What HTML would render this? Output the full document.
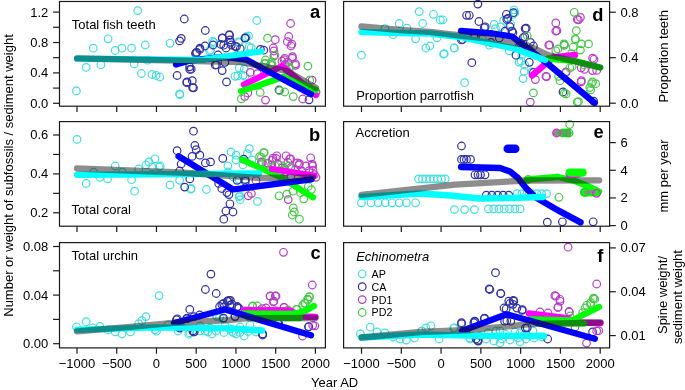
<!DOCTYPE html><html><head><meta charset="utf-8"><style>
html,body{margin:0;padding:0;background:#fff;width:685px;height:390px;overflow:hidden}
svg{display:block;filter:blur(0.35px)}
text{font-family:"Liberation Sans", sans-serif;fill:#000}
</style></head><body>
<svg width="685" height="390" viewBox="0 0 685 390">
<g fill="none" stroke-width="1.2">
<circle cx="213.8" cy="42.4" r="3.8" stroke="#40dede"/>
<circle cx="209.5" cy="50.8" r="3.8" stroke="#40dede"/>
<circle cx="239.2" cy="42.4" r="3.8" stroke="#40dede"/>
<circle cx="246.3" cy="36.7" r="3.8" stroke="#40dede"/>
<circle cx="249.1" cy="46.6" r="3.8" stroke="#40dede"/>
<circle cx="235.0" cy="76.3" r="3.8" stroke="#40dede"/>
<circle cx="244.9" cy="76.3" r="3.8" stroke="#40dede"/>
<circle cx="239.2" cy="67.8" r="3.8" stroke="#40dede"/>
<circle cx="179.9" cy="94.6" r="3.8" stroke="#40dede"/>
<circle cx="137.7" cy="10.6" r="3.8" stroke="#40dede"/>
<circle cx="108.1" cy="38.8" r="3.8" stroke="#40dede"/>
<circle cx="93.3" cy="48.2" r="3.8" stroke="#40dede"/>
<circle cx="115.2" cy="50.5" r="3.8" stroke="#40dede"/>
<circle cx="121.9" cy="48.2" r="3.8" stroke="#40dede"/>
<circle cx="131.6" cy="48.2" r="3.8" stroke="#40dede"/>
<circle cx="145.2" cy="45.0" r="3.8" stroke="#40dede"/>
<circle cx="170.0" cy="43.3" r="3.8" stroke="#40dede"/>
<circle cx="86.2" cy="67.4" r="3.8" stroke="#40dede"/>
<circle cx="100.9" cy="64.7" r="3.8" stroke="#40dede"/>
<circle cx="134.2" cy="63.9" r="3.8" stroke="#40dede"/>
<circle cx="147.5" cy="60.2" r="3.8" stroke="#40dede"/>
<circle cx="141.4" cy="73.5" r="3.8" stroke="#40dede"/>
<circle cx="152.0" cy="74.5" r="3.8" stroke="#40dede"/>
<circle cx="156.1" cy="75.5" r="3.8" stroke="#40dede"/>
<circle cx="159.8" cy="77.0" r="3.8" stroke="#40dede"/>
<circle cx="76.4" cy="90.9" r="3.8" stroke="#40dede"/>
<circle cx="179.6" cy="93.9" r="3.8" stroke="#40dede"/>
<circle cx="212.7" cy="41.5" r="3.8" stroke="#40dede"/>
<circle cx="210.5" cy="49.7" r="3.8" stroke="#40dede"/>
<circle cx="238.3" cy="41.8" r="3.8" stroke="#40dede"/>
<circle cx="248.6" cy="36.0" r="3.8" stroke="#40dede"/>
<circle cx="251.2" cy="47.6" r="3.8" stroke="#40dede"/>
<circle cx="256.7" cy="20.5" r="3.8" stroke="#40dede"/>
<circle cx="237.8" cy="75.9" r="3.8" stroke="#40dede"/>
<circle cx="243.0" cy="75.3" r="3.8" stroke="#40dede"/>
<circle cx="244.2" cy="69.0" r="3.8" stroke="#40dede"/>
<circle cx="222.2" cy="38.1" r="3.8" stroke="#3030a6"/>
<circle cx="229.3" cy="35.3" r="3.8" stroke="#3030a6"/>
<circle cx="230.7" cy="42.4" r="3.8" stroke="#3030a6"/>
<circle cx="223.7" cy="45.2" r="3.8" stroke="#3030a6"/>
<circle cx="236.4" cy="46.6" r="3.8" stroke="#3030a6"/>
<circle cx="244.9" cy="38.1" r="3.8" stroke="#3030a6"/>
<circle cx="260.4" cy="49.4" r="3.8" stroke="#3030a6"/>
<circle cx="215.2" cy="65.0" r="3.8" stroke="#3030a6"/>
<circle cx="222.2" cy="70.6" r="3.8" stroke="#3030a6"/>
<circle cx="226.5" cy="81.9" r="3.8" stroke="#3030a6"/>
<circle cx="187.0" cy="81.9" r="3.8" stroke="#3030a6"/>
<circle cx="192.6" cy="87.6" r="3.8" stroke="#3030a6"/>
<circle cx="191.2" cy="69.2" r="3.8" stroke="#3030a6"/>
<circle cx="196.8" cy="52.3" r="3.8" stroke="#3030a6"/>
<circle cx="199.7" cy="49.4" r="3.8" stroke="#3030a6"/>
<circle cx="184.3" cy="19.0" r="3.8" stroke="#3030a6"/>
<circle cx="181.2" cy="38.4" r="3.8" stroke="#3030a6"/>
<circle cx="179.6" cy="40.9" r="3.8" stroke="#3030a6"/>
<circle cx="195.5" cy="53.5" r="3.8" stroke="#3030a6"/>
<circle cx="177.1" cy="75.5" r="3.8" stroke="#3030a6"/>
<circle cx="186.7" cy="82.7" r="3.8" stroke="#3030a6"/>
<circle cx="192.3" cy="80.7" r="3.8" stroke="#3030a6"/>
<circle cx="193.5" cy="87.8" r="3.8" stroke="#3030a6"/>
<circle cx="189.8" cy="69.4" r="3.8" stroke="#3030a6"/>
<circle cx="205.3" cy="30.5" r="3.8" stroke="#3030a6"/>
<circle cx="199.9" cy="48.2" r="3.8" stroke="#3030a6"/>
<circle cx="196.0" cy="52.7" r="3.8" stroke="#3030a6"/>
<circle cx="222.3" cy="37.9" r="3.8" stroke="#3030a6"/>
<circle cx="229.4" cy="34.7" r="3.8" stroke="#3030a6"/>
<circle cx="230.0" cy="39.9" r="3.8" stroke="#3030a6"/>
<circle cx="221.0" cy="44.4" r="3.8" stroke="#3030a6"/>
<circle cx="231.3" cy="45.0" r="3.8" stroke="#3030a6"/>
<circle cx="235.1" cy="46.3" r="3.8" stroke="#3030a6"/>
<circle cx="240.3" cy="48.8" r="3.8" stroke="#3030a6"/>
<circle cx="245.4" cy="37.9" r="3.8" stroke="#3030a6"/>
<circle cx="216.5" cy="64.9" r="3.8" stroke="#3030a6"/>
<circle cx="224.9" cy="62.3" r="3.8" stroke="#3030a6"/>
<circle cx="189.6" cy="66.8" r="3.8" stroke="#3030a6"/>
<circle cx="263.7" cy="50.2" r="3.8" stroke="#3030a6"/>
<circle cx="279.0" cy="90.0" r="3.8" stroke="#3030a6"/>
<circle cx="309.0" cy="99.8" r="3.8" stroke="#3030a6"/>
<circle cx="213.0" cy="45.0" r="3.8" stroke="#3030a6"/>
<circle cx="226.0" cy="48.0" r="3.8" stroke="#3030a6"/>
<circle cx="205.0" cy="46.0" r="3.8" stroke="#3030a6"/>
<circle cx="236.0" cy="56.0" r="3.8" stroke="#3030a6"/>
<circle cx="218.0" cy="55.0" r="3.8" stroke="#3030a6"/>
<circle cx="273.8" cy="51.0" r="3.8" stroke="#b83cc6"/>
<circle cx="284.1" cy="59.7" r="3.8" stroke="#b83cc6"/>
<circle cx="292.3" cy="58.2" r="3.8" stroke="#b83cc6"/>
<circle cx="285.1" cy="64.4" r="3.8" stroke="#b83cc6"/>
<circle cx="295.4" cy="63.8" r="3.8" stroke="#b83cc6"/>
<circle cx="257.4" cy="73.6" r="3.8" stroke="#b83cc6"/>
<circle cx="290.6" cy="23.5" r="3.8" stroke="#b83cc6"/>
<circle cx="275.3" cy="39.7" r="3.8" stroke="#b83cc6"/>
<circle cx="288.7" cy="36.5" r="3.8" stroke="#b83cc6"/>
<circle cx="287.4" cy="41.7" r="3.8" stroke="#b83cc6"/>
<circle cx="291.9" cy="44.2" r="3.8" stroke="#b83cc6"/>
<circle cx="273.3" cy="48.0" r="3.8" stroke="#b83cc6"/>
<circle cx="273.9" cy="56.1" r="3.8" stroke="#b83cc6"/>
<circle cx="250.2" cy="72.4" r="3.8" stroke="#b83cc6"/>
<circle cx="282.0" cy="61.2" r="3.8" stroke="#b83cc6"/>
<circle cx="265.5" cy="100.1" r="3.8" stroke="#b83cc6"/>
<circle cx="244.8" cy="96.6" r="3.8" stroke="#b83cc6"/>
<circle cx="247.8" cy="93.0" r="3.8" stroke="#b83cc6"/>
<circle cx="284.7" cy="58.3" r="3.8" stroke="#b83cc6"/>
<circle cx="292.5" cy="56.7" r="3.8" stroke="#b83cc6"/>
<circle cx="295.6" cy="65.3" r="3.8" stroke="#b83cc6"/>
<circle cx="287.8" cy="62.2" r="3.8" stroke="#b83cc6"/>
<circle cx="312.1" cy="80.2" r="3.8" stroke="#b83cc6"/>
<circle cx="316.0" cy="92.0" r="3.8" stroke="#b83cc6"/>
<circle cx="302.7" cy="99.0" r="3.8" stroke="#b83cc6"/>
<circle cx="291.0" cy="46.0" r="3.8" stroke="#b83cc6"/>
<circle cx="274.9" cy="55.1" r="3.8" stroke="#46c846"/>
<circle cx="265.6" cy="63.3" r="3.8" stroke="#46c846"/>
<circle cx="270.8" cy="64.4" r="3.8" stroke="#46c846"/>
<circle cx="289.2" cy="66.9" r="3.8" stroke="#46c846"/>
<circle cx="287.2" cy="70.5" r="3.8" stroke="#46c846"/>
<circle cx="267.6" cy="38.2" r="3.8" stroke="#46c846"/>
<circle cx="264.6" cy="63.7" r="3.8" stroke="#46c846"/>
<circle cx="272.2" cy="65.4" r="3.8" stroke="#46c846"/>
<circle cx="271.4" cy="62.4" r="3.8" stroke="#46c846"/>
<circle cx="265.5" cy="60.0" r="3.8" stroke="#46c846"/>
<circle cx="279.6" cy="90.7" r="3.8" stroke="#46c846"/>
<circle cx="260.2" cy="92.4" r="3.8" stroke="#46c846"/>
<circle cx="241.3" cy="98.9" r="3.8" stroke="#46c846"/>
<circle cx="307.9" cy="66.1" r="3.8" stroke="#46c846"/>
<circle cx="289.4" cy="68.5" r="3.8" stroke="#46c846"/>
<circle cx="309.7" cy="80.2" r="3.8" stroke="#46c846"/>
<circle cx="293.3" cy="96.6" r="3.8" stroke="#46c846"/>
<circle cx="284.7" cy="92.0" r="3.8" stroke="#46c846"/>
</g>
<g fill="none" stroke-linecap="round" stroke-linejoin="round">
<polyline points="244,84.6 282,66 316,95" stroke="#ff00ff" stroke-width="6.3"/>
<polyline points="241,91.3 283,77 316,90" stroke="#00ff00" stroke-width="6.3"/>
<polyline points="176,64.5 190,60.5 225,57 246,59.5 311,94.3" stroke="#0000ff" stroke-width="6.3"/>
<polyline points="77,58.6 200,60 261,51.5" stroke="#00ffff" stroke-width="6.3"/>
<polyline points="77,58.4 240,62 287,71 316,88" stroke="#1c1c1c" stroke-opacity="0.5" stroke-width="6.3"/>
</g>
<g fill="none" stroke-width="1.2">
<circle cx="231.0" cy="152.0" r="3.8" stroke="#40dede"/>
<circle cx="236.0" cy="160.0" r="3.8" stroke="#40dede"/>
<circle cx="243.0" cy="165.0" r="3.8" stroke="#40dede"/>
<circle cx="252.0" cy="160.0" r="3.8" stroke="#40dede"/>
<circle cx="228.0" cy="172.0" r="3.8" stroke="#40dede"/>
<circle cx="233.0" cy="177.0" r="3.8" stroke="#40dede"/>
<circle cx="77.0" cy="139.4" r="3.8" stroke="#40dede"/>
<circle cx="115.2" cy="166.0" r="3.8" stroke="#40dede"/>
<circle cx="155.0" cy="158.8" r="3.8" stroke="#40dede"/>
<circle cx="148.9" cy="161.9" r="3.8" stroke="#40dede"/>
<circle cx="145.9" cy="165.0" r="3.8" stroke="#40dede"/>
<circle cx="160.2" cy="166.0" r="3.8" stroke="#40dede"/>
<circle cx="138.7" cy="169.0" r="3.8" stroke="#40dede"/>
<circle cx="93.7" cy="172.1" r="3.8" stroke="#40dede"/>
<circle cx="86.2" cy="183.4" r="3.8" stroke="#40dede"/>
<circle cx="99.9" cy="177.3" r="3.8" stroke="#40dede"/>
<circle cx="107.6" cy="178.9" r="3.8" stroke="#40dede"/>
<circle cx="131.6" cy="179.7" r="3.8" stroke="#40dede"/>
<circle cx="134.6" cy="191.2" r="3.8" stroke="#40dede"/>
<circle cx="122.4" cy="172.2" r="3.8" stroke="#40dede"/>
<circle cx="170.0" cy="185.0" r="3.8" stroke="#40dede"/>
<circle cx="179.6" cy="180.3" r="3.8" stroke="#40dede"/>
<circle cx="190.8" cy="189.1" r="3.8" stroke="#40dede"/>
<circle cx="152.0" cy="167.0" r="3.8" stroke="#40dede"/>
<circle cx="159.1" cy="167.0" r="3.8" stroke="#40dede"/>
<circle cx="236.1" cy="155.2" r="3.8" stroke="#40dede"/>
<circle cx="249.4" cy="148.6" r="3.8" stroke="#40dede"/>
<circle cx="247.3" cy="153.7" r="3.8" stroke="#40dede"/>
<circle cx="227.9" cy="166.0" r="3.8" stroke="#40dede"/>
<circle cx="191.1" cy="188.5" r="3.8" stroke="#40dede"/>
<circle cx="206.4" cy="189.5" r="3.8" stroke="#40dede"/>
<circle cx="239.1" cy="196.7" r="3.8" stroke="#40dede"/>
<circle cx="240.2" cy="199.7" r="3.8" stroke="#40dede"/>
<circle cx="257.5" cy="201.4" r="3.8" stroke="#40dede"/>
<circle cx="247.3" cy="186.5" r="3.8" stroke="#40dede"/>
<circle cx="239.0" cy="179.6" r="3.8" stroke="#40dede"/>
<circle cx="239.8" cy="195.8" r="3.8" stroke="#40dede"/>
<circle cx="193.5" cy="131.2" r="3.8" stroke="#3030a6"/>
<circle cx="177.1" cy="150.7" r="3.8" stroke="#3030a6"/>
<circle cx="194.9" cy="145.5" r="3.8" stroke="#3030a6"/>
<circle cx="181.2" cy="164.0" r="3.8" stroke="#3030a6"/>
<circle cx="179.6" cy="171.0" r="3.8" stroke="#3030a6"/>
<circle cx="184.7" cy="187.1" r="3.8" stroke="#3030a6"/>
<circle cx="189.8" cy="178.9" r="3.8" stroke="#3030a6"/>
<circle cx="196.2" cy="149.6" r="3.8" stroke="#3030a6"/>
<circle cx="199.9" cy="155.2" r="3.8" stroke="#3030a6"/>
<circle cx="192.1" cy="156.4" r="3.8" stroke="#3030a6"/>
<circle cx="205.4" cy="162.9" r="3.8" stroke="#3030a6"/>
<circle cx="210.5" cy="161.9" r="3.8" stroke="#3030a6"/>
<circle cx="222.8" cy="158.4" r="3.8" stroke="#3030a6"/>
<circle cx="243.8" cy="159.2" r="3.8" stroke="#3030a6"/>
<circle cx="218.7" cy="183.4" r="3.8" stroke="#3030a6"/>
<circle cx="221.8" cy="188.5" r="3.8" stroke="#3030a6"/>
<circle cx="226.9" cy="192.6" r="3.8" stroke="#3030a6"/>
<circle cx="228.9" cy="194.6" r="3.8" stroke="#3030a6"/>
<circle cx="229.9" cy="203.8" r="3.8" stroke="#3030a6"/>
<circle cx="225.9" cy="211.0" r="3.8" stroke="#3030a6"/>
<circle cx="233.0" cy="212.0" r="3.8" stroke="#3030a6"/>
<circle cx="223.8" cy="219.2" r="3.8" stroke="#3030a6"/>
<circle cx="237.1" cy="180.3" r="3.8" stroke="#3030a6"/>
<circle cx="245.3" cy="181.3" r="3.8" stroke="#3030a6"/>
<circle cx="308.6" cy="177.3" r="3.8" stroke="#3030a6"/>
<circle cx="245.2" cy="179.6" r="3.8" stroke="#3030a6"/>
<circle cx="262.5" cy="162.5" r="3.8" stroke="#b83cc6"/>
<circle cx="267.7" cy="163.1" r="3.8" stroke="#b83cc6"/>
<circle cx="272.3" cy="160.2" r="3.8" stroke="#b83cc6"/>
<circle cx="276.3" cy="158.5" r="3.8" stroke="#b83cc6"/>
<circle cx="271.7" cy="164.8" r="3.8" stroke="#b83cc6"/>
<circle cx="278.1" cy="164.2" r="3.8" stroke="#b83cc6"/>
<circle cx="289.6" cy="159.0" r="3.8" stroke="#b83cc6"/>
<circle cx="287.9" cy="162.5" r="3.8" stroke="#b83cc6"/>
<circle cx="299.4" cy="163.6" r="3.8" stroke="#b83cc6"/>
<circle cx="309.2" cy="170.6" r="3.8" stroke="#b83cc6"/>
<circle cx="314.4" cy="174.6" r="3.8" stroke="#b83cc6"/>
<circle cx="290.8" cy="167.7" r="3.8" stroke="#b83cc6"/>
<circle cx="281.5" cy="171.1" r="3.8" stroke="#b83cc6"/>
<circle cx="295.0" cy="170.0" r="3.8" stroke="#b83cc6"/>
<circle cx="302.0" cy="171.0" r="3.8" stroke="#b83cc6"/>
<circle cx="306.0" cy="166.0" r="3.8" stroke="#b83cc6"/>
<circle cx="286.1" cy="155.8" r="3.8" stroke="#b83cc6"/>
<circle cx="310.7" cy="157.8" r="3.8" stroke="#b83cc6"/>
<circle cx="297.4" cy="162.9" r="3.8" stroke="#b83cc6"/>
<circle cx="312.7" cy="166.0" r="3.8" stroke="#b83cc6"/>
<circle cx="251.4" cy="193.6" r="3.8" stroke="#b83cc6"/>
<circle cx="288.2" cy="199.6" r="3.8" stroke="#b83cc6"/>
<circle cx="261.4" cy="161.9" r="3.8" stroke="#b83cc6"/>
<circle cx="272.9" cy="158.1" r="3.8" stroke="#b83cc6"/>
<circle cx="276.8" cy="155.8" r="3.8" stroke="#b83cc6"/>
<circle cx="290.6" cy="158.8" r="3.8" stroke="#b83cc6"/>
<circle cx="299.1" cy="165.0" r="3.8" stroke="#b83cc6"/>
<circle cx="312.2" cy="164.2" r="3.8" stroke="#b83cc6"/>
<circle cx="313.0" cy="170.4" r="3.8" stroke="#b83cc6"/>
<circle cx="316.0" cy="177.3" r="3.8" stroke="#b83cc6"/>
<circle cx="282.2" cy="168.0" r="3.8" stroke="#b83cc6"/>
<circle cx="286.0" cy="172.0" r="3.8" stroke="#b83cc6"/>
<circle cx="248.3" cy="195.8" r="3.8" stroke="#b83cc6"/>
<circle cx="256.0" cy="180.4" r="3.8" stroke="#b83cc6"/>
<circle cx="291.0" cy="176.0" r="3.8" stroke="#b83cc6"/>
<circle cx="264.2" cy="152.7" r="3.8" stroke="#46c846"/>
<circle cx="259.6" cy="156.7" r="3.8" stroke="#46c846"/>
<circle cx="282.7" cy="166.0" r="3.8" stroke="#46c846"/>
<circle cx="285.0" cy="168.8" r="3.8" stroke="#46c846"/>
<circle cx="275.0" cy="166.0" r="3.8" stroke="#46c846"/>
<circle cx="263.7" cy="152.7" r="3.8" stroke="#46c846"/>
<circle cx="261.4" cy="157.3" r="3.8" stroke="#46c846"/>
<circle cx="266.0" cy="163.5" r="3.8" stroke="#46c846"/>
<circle cx="279.1" cy="195.8" r="3.8" stroke="#46c846"/>
<circle cx="286.8" cy="194.2" r="3.8" stroke="#46c846"/>
<circle cx="293.0" cy="191.2" r="3.8" stroke="#46c846"/>
<circle cx="300.6" cy="192.7" r="3.8" stroke="#46c846"/>
<circle cx="303.7" cy="198.8" r="3.8" stroke="#46c846"/>
<circle cx="293.3" cy="207.9" r="3.8" stroke="#46c846"/>
<circle cx="294.3" cy="212.0" r="3.8" stroke="#46c846"/>
<circle cx="292.3" cy="215.0" r="3.8" stroke="#46c846"/>
<circle cx="299.4" cy="219.2" r="3.8" stroke="#46c846"/>
<circle cx="308.3" cy="186.5" r="3.8" stroke="#46c846"/>
<circle cx="311.4" cy="189.6" r="3.8" stroke="#46c846"/>
<circle cx="283.0" cy="170.0" r="3.8" stroke="#46c846"/>
<circle cx="289.0" cy="166.0" r="3.8" stroke="#46c846"/>
</g>
<g fill="none" stroke-linecap="round" stroke-linejoin="round">
<polyline points="242.2,159.6 282,178 313,197.3" stroke="#00ff00" stroke-width="6.3"/>
<polyline points="272,169 314,175.5" stroke="#ff00ff" stroke-width="6.3"/>
<polyline points="178.5,156.3 233,189.5 311.4,179.3" stroke="#0000ff" stroke-width="6.3"/>
<polyline points="77,174.8 259,173.5" stroke="#00ffff" stroke-width="6.3"/>
<polyline points="77,168.5 180,172.5 260,178 313,177.3" stroke="#1c1c1c" stroke-opacity="0.5" stroke-width="6.3"/>
</g>
<g fill="none" stroke-width="1.2">
<circle cx="200.0" cy="331.0" r="3.8" stroke="#40dede"/>
<circle cx="208.0" cy="332.0" r="3.8" stroke="#40dede"/>
<circle cx="216.0" cy="331.0" r="3.8" stroke="#40dede"/>
<circle cx="224.0" cy="332.5" r="3.8" stroke="#40dede"/>
<circle cx="232.0" cy="331.5" r="3.8" stroke="#40dede"/>
<circle cx="240.0" cy="332.5" r="3.8" stroke="#40dede"/>
<circle cx="248.0" cy="331.5" r="3.8" stroke="#40dede"/>
<circle cx="256.0" cy="332.0" r="3.8" stroke="#40dede"/>
<circle cx="212.0" cy="334.0" r="3.8" stroke="#40dede"/>
<circle cx="236.0" cy="334.0" r="3.8" stroke="#40dede"/>
<circle cx="188.8" cy="334.2" r="3.8" stroke="#40dede"/>
<circle cx="156.5" cy="331.2" r="3.8" stroke="#40dede"/>
<circle cx="216.5" cy="315.8" r="3.8" stroke="#40dede"/>
<circle cx="219.6" cy="317.3" r="3.8" stroke="#40dede"/>
<circle cx="233.5" cy="332.7" r="3.8" stroke="#40dede"/>
<circle cx="200.0" cy="326.0" r="3.8" stroke="#40dede"/>
<circle cx="210.0" cy="328.0" r="3.8" stroke="#40dede"/>
<circle cx="225.0" cy="326.0" r="3.8" stroke="#40dede"/>
<circle cx="240.0" cy="327.0" r="3.8" stroke="#40dede"/>
<circle cx="250.0" cy="325.0" r="3.8" stroke="#40dede"/>
<circle cx="205.0" cy="331.0" r="3.8" stroke="#40dede"/>
<circle cx="230.0" cy="329.0" r="3.8" stroke="#40dede"/>
<circle cx="159.1" cy="295.6" r="3.8" stroke="#40dede"/>
<circle cx="76.4" cy="326.8" r="3.8" stroke="#40dede"/>
<circle cx="86.2" cy="321.7" r="3.8" stroke="#40dede"/>
<circle cx="92.7" cy="327.8" r="3.8" stroke="#40dede"/>
<circle cx="99.9" cy="326.4" r="3.8" stroke="#40dede"/>
<circle cx="108.0" cy="329.9" r="3.8" stroke="#40dede"/>
<circle cx="115.2" cy="331.9" r="3.8" stroke="#40dede"/>
<circle cx="121.9" cy="334.0" r="3.8" stroke="#40dede"/>
<circle cx="130.5" cy="331.9" r="3.8" stroke="#40dede"/>
<circle cx="138.7" cy="323.7" r="3.8" stroke="#40dede"/>
<circle cx="141.8" cy="320.7" r="3.8" stroke="#40dede"/>
<circle cx="145.9" cy="316.6" r="3.8" stroke="#40dede"/>
<circle cx="155.0" cy="329.9" r="3.8" stroke="#40dede"/>
<circle cx="189.8" cy="332.9" r="3.8" stroke="#40dede"/>
<circle cx="216.7" cy="316.6" r="3.8" stroke="#40dede"/>
<circle cx="222.8" cy="318.6" r="3.8" stroke="#40dede"/>
<circle cx="244.2" cy="336.0" r="3.8" stroke="#40dede"/>
<circle cx="262.6" cy="333.9" r="3.8" stroke="#40dede"/>
<circle cx="168.0" cy="325.0" r="3.8" stroke="#40dede"/>
<circle cx="178.0" cy="331.0" r="3.8" stroke="#40dede"/>
<circle cx="278.7" cy="323.3" r="3.8" stroke="#3030a6"/>
<circle cx="308.7" cy="326.7" r="3.8" stroke="#3030a6"/>
<circle cx="262.7" cy="334.0" r="3.8" stroke="#3030a6"/>
<circle cx="177.3" cy="318.8" r="3.8" stroke="#3030a6"/>
<circle cx="187.3" cy="318.1" r="3.8" stroke="#3030a6"/>
<circle cx="199.6" cy="315.0" r="3.8" stroke="#3030a6"/>
<circle cx="179.6" cy="328.1" r="3.8" stroke="#3030a6"/>
<circle cx="193.5" cy="331.9" r="3.8" stroke="#3030a6"/>
<circle cx="219.6" cy="306.5" r="3.8" stroke="#3030a6"/>
<circle cx="223.5" cy="303.5" r="3.8" stroke="#3030a6"/>
<circle cx="227.3" cy="301.2" r="3.8" stroke="#3030a6"/>
<circle cx="230.4" cy="300.4" r="3.8" stroke="#3030a6"/>
<circle cx="231.9" cy="304.2" r="3.8" stroke="#3030a6"/>
<circle cx="237.3" cy="306.5" r="3.8" stroke="#3030a6"/>
<circle cx="238.8" cy="308.1" r="3.8" stroke="#3030a6"/>
<circle cx="223.5" cy="318.1" r="3.8" stroke="#3030a6"/>
<circle cx="235.0" cy="316.5" r="3.8" stroke="#3030a6"/>
<circle cx="189.8" cy="309.4" r="3.8" stroke="#3030a6"/>
<circle cx="176.5" cy="319.6" r="3.8" stroke="#3030a6"/>
<circle cx="186.7" cy="318.6" r="3.8" stroke="#3030a6"/>
<circle cx="180.6" cy="326.8" r="3.8" stroke="#3030a6"/>
<circle cx="192.9" cy="330.9" r="3.8" stroke="#3030a6"/>
<circle cx="193.9" cy="316.6" r="3.8" stroke="#3030a6"/>
<circle cx="210.9" cy="274.1" r="3.8" stroke="#3030a6"/>
<circle cx="205.4" cy="289.5" r="3.8" stroke="#3030a6"/>
<circle cx="216.2" cy="293.5" r="3.8" stroke="#3030a6"/>
<circle cx="228.9" cy="300.3" r="3.8" stroke="#3030a6"/>
<circle cx="221.8" cy="304.3" r="3.8" stroke="#3030a6"/>
<circle cx="227.9" cy="301.2" r="3.8" stroke="#3030a6"/>
<circle cx="229.9" cy="305.3" r="3.8" stroke="#3030a6"/>
<circle cx="237.1" cy="307.4" r="3.8" stroke="#3030a6"/>
<circle cx="235.0" cy="316.6" r="3.8" stroke="#3030a6"/>
<circle cx="194.2" cy="331.9" r="3.8" stroke="#3030a6"/>
<circle cx="262.6" cy="335.0" r="3.8" stroke="#3030a6"/>
<circle cx="308.6" cy="326.8" r="3.8" stroke="#3030a6"/>
<circle cx="278.0" cy="323.7" r="3.8" stroke="#3030a6"/>
<circle cx="224.0" cy="307.0" r="3.8" stroke="#3030a6"/>
<circle cx="270.0" cy="296.0" r="3.8" stroke="#b83cc6"/>
<circle cx="276.0" cy="296.0" r="3.8" stroke="#b83cc6"/>
<circle cx="273.3" cy="302.0" r="3.8" stroke="#b83cc6"/>
<circle cx="284.0" cy="307.3" r="3.8" stroke="#b83cc6"/>
<circle cx="266.0" cy="308.0" r="3.8" stroke="#b83cc6"/>
<circle cx="262.0" cy="308.7" r="3.8" stroke="#b83cc6"/>
<circle cx="312.7" cy="325.3" r="3.8" stroke="#b83cc6"/>
<circle cx="283.5" cy="252.3" r="3.8" stroke="#b83cc6"/>
<circle cx="312.3" cy="285.0" r="3.8" stroke="#b83cc6"/>
<circle cx="270.2" cy="296.2" r="3.8" stroke="#b83cc6"/>
<circle cx="275.3" cy="296.2" r="3.8" stroke="#b83cc6"/>
<circle cx="273.9" cy="301.2" r="3.8" stroke="#b83cc6"/>
<circle cx="284.1" cy="307.4" r="3.8" stroke="#b83cc6"/>
<circle cx="302.5" cy="336.0" r="3.8" stroke="#b83cc6"/>
<circle cx="314.8" cy="325.8" r="3.8" stroke="#b83cc6"/>
<circle cx="260.0" cy="311.0" r="3.8" stroke="#b83cc6"/>
<circle cx="268.0" cy="312.0" r="3.8" stroke="#b83cc6"/>
<circle cx="252.7" cy="306.0" r="3.8" stroke="#46c846"/>
<circle cx="257.3" cy="306.0" r="3.8" stroke="#46c846"/>
<circle cx="309.3" cy="296.7" r="3.8" stroke="#46c846"/>
<circle cx="308.0" cy="300.0" r="3.8" stroke="#46c846"/>
<circle cx="305.3" cy="303.3" r="3.8" stroke="#46c846"/>
<circle cx="302.7" cy="305.3" r="3.8" stroke="#46c846"/>
<circle cx="297.3" cy="309.3" r="3.8" stroke="#46c846"/>
<circle cx="276.0" cy="310.7" r="3.8" stroke="#46c846"/>
<circle cx="309.6" cy="296.8" r="3.8" stroke="#46c846"/>
<circle cx="307.6" cy="299.2" r="3.8" stroke="#46c846"/>
<circle cx="304.5" cy="303.3" r="3.8" stroke="#46c846"/>
<circle cx="252.4" cy="306.3" r="3.8" stroke="#46c846"/>
<circle cx="296.4" cy="309.4" r="3.8" stroke="#46c846"/>
<circle cx="288.0" cy="310.0" r="3.8" stroke="#46c846"/>
</g>
<g fill="none" stroke-linecap="round" stroke-linejoin="round">
<polyline points="244,310 290,310.5 303,316.5 315.5,317" stroke="#ff00ff" stroke-width="6.3"/>
<polyline points="248,317.5 300,318" stroke="#00ff00" stroke-width="6.3"/>
<polyline points="244,313.5 291,314 304,311.5 314,306" stroke="#00ff00" stroke-width="6.3"/>
<polyline points="174,323 225,309.5 311,335.3" stroke="#0000ff" stroke-width="6.3"/>
<polyline points="77,329.8 155,327.3 230,328.3 262,330.5" stroke="#00ffff" stroke-width="6.3"/>
<polyline points="77,331.3 130,326.8 174,322.8 230,320 244,318.3 315.5,318" stroke="#1c1c1c" stroke-opacity="0.5" stroke-width="6.3"/>
</g>
<g fill="none" stroke-width="1.2">
<circle cx="510.6" cy="24.0" r="3.8" stroke="#40dede"/>
<circle cx="514.9" cy="12.7" r="3.8" stroke="#40dede"/>
<circle cx="500.7" cy="26.8" r="3.8" stroke="#40dede"/>
<circle cx="482.4" cy="39.5" r="3.8" stroke="#40dede"/>
<circle cx="489.4" cy="45.2" r="3.8" stroke="#40dede"/>
<circle cx="509.2" cy="50.8" r="3.8" stroke="#40dede"/>
<circle cx="521.9" cy="55.1" r="3.8" stroke="#40dede"/>
<circle cx="524.7" cy="65.0" r="3.8" stroke="#40dede"/>
<circle cx="531.8" cy="72.0" r="3.8" stroke="#40dede"/>
<circle cx="442.8" cy="19.8" r="3.8" stroke="#40dede"/>
<circle cx="444.2" cy="53.7" r="3.8" stroke="#40dede"/>
<circle cx="454.1" cy="48.0" r="3.8" stroke="#40dede"/>
<circle cx="519.1" cy="62.1" r="3.8" stroke="#40dede"/>
<circle cx="419.2" cy="11.6" r="3.8" stroke="#40dede"/>
<circle cx="433.5" cy="14.3" r="3.8" stroke="#40dede"/>
<circle cx="440.3" cy="20.0" r="3.8" stroke="#40dede"/>
<circle cx="422.7" cy="23.5" r="3.8" stroke="#40dede"/>
<circle cx="399.2" cy="23.5" r="3.8" stroke="#40dede"/>
<circle cx="406.8" cy="28.2" r="3.8" stroke="#40dede"/>
<circle cx="384.9" cy="28.6" r="3.8" stroke="#40dede"/>
<circle cx="393.1" cy="34.7" r="3.8" stroke="#40dede"/>
<circle cx="415.6" cy="38.8" r="3.8" stroke="#40dede"/>
<circle cx="437.0" cy="37.8" r="3.8" stroke="#40dede"/>
<circle cx="425.8" cy="48.0" r="3.8" stroke="#40dede"/>
<circle cx="429.9" cy="46.0" r="3.8" stroke="#40dede"/>
<circle cx="454.4" cy="48.0" r="3.8" stroke="#40dede"/>
<circle cx="443.6" cy="54.2" r="3.8" stroke="#40dede"/>
<circle cx="361.4" cy="55.2" r="3.8" stroke="#40dede"/>
<circle cx="464.6" cy="82.7" r="3.8" stroke="#40dede"/>
<circle cx="494.1" cy="24.5" r="3.8" stroke="#40dede"/>
<circle cx="495.5" cy="28.6" r="3.8" stroke="#40dede"/>
<circle cx="513.9" cy="9.8" r="3.8" stroke="#40dede"/>
<circle cx="512.9" cy="14.3" r="3.8" stroke="#40dede"/>
<circle cx="503.7" cy="20.4" r="3.8" stroke="#40dede"/>
<circle cx="521.1" cy="61.2" r="3.8" stroke="#40dede"/>
<circle cx="524.2" cy="71.5" r="3.8" stroke="#40dede"/>
<circle cx="523.1" cy="78.6" r="3.8" stroke="#40dede"/>
<circle cx="485.2" cy="26.8" r="3.8" stroke="#3030a6"/>
<circle cx="507.8" cy="18.4" r="3.8" stroke="#3030a6"/>
<circle cx="513.4" cy="12.7" r="3.8" stroke="#3030a6"/>
<circle cx="512.0" cy="31.1" r="3.8" stroke="#3030a6"/>
<circle cx="526.2" cy="28.2" r="3.8" stroke="#3030a6"/>
<circle cx="524.7" cy="36.7" r="3.8" stroke="#3030a6"/>
<circle cx="530.4" cy="42.4" r="3.8" stroke="#3030a6"/>
<circle cx="475.3" cy="36.7" r="3.8" stroke="#3030a6"/>
<circle cx="462.6" cy="39.5" r="3.8" stroke="#3030a6"/>
<circle cx="499.3" cy="38.1" r="3.8" stroke="#3030a6"/>
<circle cx="490.8" cy="42.4" r="3.8" stroke="#3030a6"/>
<circle cx="505.0" cy="31.1" r="3.8" stroke="#3030a6"/>
<circle cx="519.1" cy="46.6" r="3.8" stroke="#3030a6"/>
<circle cx="530.4" cy="50.8" r="3.8" stroke="#3030a6"/>
<circle cx="477.9" cy="4.1" r="3.8" stroke="#3030a6"/>
<circle cx="466.6" cy="15.3" r="3.8" stroke="#3030a6"/>
<circle cx="469.3" cy="15.3" r="3.8" stroke="#3030a6"/>
<circle cx="478.9" cy="21.5" r="3.8" stroke="#3030a6"/>
<circle cx="461.5" cy="39.9" r="3.8" stroke="#3030a6"/>
<circle cx="473.8" cy="35.8" r="3.8" stroke="#3030a6"/>
<circle cx="471.8" cy="62.7" r="3.8" stroke="#3030a6"/>
<circle cx="484.3" cy="27.6" r="3.8" stroke="#3030a6"/>
<circle cx="506.4" cy="14.3" r="3.8" stroke="#3030a6"/>
<circle cx="506.8" cy="19.4" r="3.8" stroke="#3030a6"/>
<circle cx="509.9" cy="26.6" r="3.8" stroke="#3030a6"/>
<circle cx="525.2" cy="28.6" r="3.8" stroke="#3030a6"/>
<circle cx="512.9" cy="32.7" r="3.8" stroke="#3030a6"/>
<circle cx="523.1" cy="37.8" r="3.8" stroke="#3030a6"/>
<circle cx="520.1" cy="42.9" r="3.8" stroke="#3030a6"/>
<circle cx="533.4" cy="46.0" r="3.8" stroke="#3030a6"/>
<circle cx="516.0" cy="55.2" r="3.8" stroke="#3030a6"/>
<circle cx="529.3" cy="62.3" r="3.8" stroke="#3030a6"/>
<circle cx="533.4" cy="72.5" r="3.8" stroke="#3030a6"/>
<circle cx="563.0" cy="91.9" r="3.8" stroke="#3030a6"/>
<circle cx="593.6" cy="101.1" r="3.8" stroke="#3030a6"/>
<circle cx="555.8" cy="31.1" r="3.8" stroke="#b83cc6"/>
<circle cx="578.4" cy="19.8" r="3.8" stroke="#b83cc6"/>
<circle cx="548.8" cy="45.2" r="3.8" stroke="#b83cc6"/>
<circle cx="564.3" cy="45.2" r="3.8" stroke="#b83cc6"/>
<circle cx="545.9" cy="76.3" r="3.8" stroke="#b83cc6"/>
<circle cx="565.7" cy="72.0" r="3.8" stroke="#b83cc6"/>
<circle cx="581.2" cy="81.9" r="3.8" stroke="#b83cc6"/>
<circle cx="592.5" cy="70.6" r="3.8" stroke="#b83cc6"/>
<circle cx="594.0" cy="59.3" r="3.8" stroke="#b83cc6"/>
<circle cx="581.2" cy="67.8" r="3.8" stroke="#b83cc6"/>
<circle cx="555.8" cy="22.9" r="3.8" stroke="#b83cc6"/>
<circle cx="556.9" cy="30.7" r="3.8" stroke="#b83cc6"/>
<circle cx="549.7" cy="45.0" r="3.8" stroke="#b83cc6"/>
<circle cx="577.3" cy="19.4" r="3.8" stroke="#b83cc6"/>
<circle cx="580.4" cy="17.4" r="3.8" stroke="#b83cc6"/>
<circle cx="592.6" cy="58.2" r="3.8" stroke="#b83cc6"/>
<circle cx="535.4" cy="79.6" r="3.8" stroke="#b83cc6"/>
<circle cx="546.6" cy="76.6" r="3.8" stroke="#b83cc6"/>
<circle cx="530.3" cy="102.1" r="3.8" stroke="#b83cc6"/>
<circle cx="566.1" cy="72.5" r="3.8" stroke="#b83cc6"/>
<circle cx="584.5" cy="69.4" r="3.8" stroke="#b83cc6"/>
<circle cx="581.4" cy="80.7" r="3.8" stroke="#b83cc6"/>
<circle cx="596.7" cy="70.4" r="3.8" stroke="#b83cc6"/>
<circle cx="575.6" cy="39.5" r="3.8" stroke="#46c846"/>
<circle cx="564.3" cy="45.2" r="3.8" stroke="#46c846"/>
<circle cx="555.8" cy="50.8" r="3.8" stroke="#46c846"/>
<circle cx="571.4" cy="53.7" r="3.8" stroke="#46c846"/>
<circle cx="558.6" cy="76.3" r="3.8" stroke="#46c846"/>
<circle cx="569.9" cy="67.8" r="3.8" stroke="#46c846"/>
<circle cx="584.0" cy="65.0" r="3.8" stroke="#46c846"/>
<circle cx="592.5" cy="81.9" r="3.8" stroke="#46c846"/>
<circle cx="589.7" cy="87.6" r="3.8" stroke="#46c846"/>
<circle cx="564.3" cy="93.2" r="3.8" stroke="#46c846"/>
<circle cx="578.4" cy="101.7" r="3.8" stroke="#46c846"/>
<circle cx="527.2" cy="35.8" r="3.8" stroke="#46c846"/>
<circle cx="574.2" cy="12.3" r="3.8" stroke="#46c846"/>
<circle cx="576.3" cy="30.7" r="3.8" stroke="#46c846"/>
<circle cx="575.2" cy="38.8" r="3.8" stroke="#46c846"/>
<circle cx="588.5" cy="43.9" r="3.8" stroke="#46c846"/>
<circle cx="564.0" cy="43.9" r="3.8" stroke="#46c846"/>
<circle cx="581.4" cy="43.9" r="3.8" stroke="#46c846"/>
<circle cx="557.9" cy="49.0" r="3.8" stroke="#46c846"/>
<circle cx="573.2" cy="47.0" r="3.8" stroke="#46c846"/>
<circle cx="580.4" cy="50.1" r="3.8" stroke="#46c846"/>
<circle cx="533.4" cy="92.9" r="3.8" stroke="#46c846"/>
<circle cx="572.2" cy="66.4" r="3.8" stroke="#46c846"/>
<circle cx="591.6" cy="83.7" r="3.8" stroke="#46c846"/>
<circle cx="595.7" cy="83.7" r="3.8" stroke="#46c846"/>
<circle cx="590.6" cy="89.9" r="3.8" stroke="#46c846"/>
<circle cx="566.1" cy="93.9" r="3.8" stroke="#46c846"/>
<circle cx="577.3" cy="102.1" r="3.8" stroke="#46c846"/>
<circle cx="560.0" cy="80.7" r="3.8" stroke="#46c846"/>
</g>
<g fill="none" stroke-linecap="round" stroke-linejoin="round">
<polyline points="532,75.5 553,57.5 575,55" stroke="#ff00ff" stroke-width="6.3"/>
<polyline points="548,58.5 575,61 600,67.5" stroke="#00ff00" stroke-width="6.3"/>
<polyline points="461,31 493,33.5 512,36.5 545,61.5 594.7,103" stroke="#0000ff" stroke-width="6.3"/>
<polyline points="361.5,32.1 400,33 430,33.5 460,37 515,48.7 545.2,60" stroke="#00ffff" stroke-width="6.3"/>
<polyline points="361.5,26.5 400,30 430,31.8 460,35.5 489,38.6 528,45.5 548,55 600.4,67.5" stroke="#1c1c1c" stroke-opacity="0.5" stroke-width="6.3"/>
</g>
<g fill="none" stroke-width="1.2">
<circle cx="361.4" cy="202.8" r="3.8" stroke="#40dede"/>
<circle cx="371.0" cy="202.8" r="3.8" stroke="#40dede"/>
<circle cx="378.2" cy="202.8" r="3.8" stroke="#40dede"/>
<circle cx="385.3" cy="202.8" r="3.8" stroke="#40dede"/>
<circle cx="392.0" cy="202.8" r="3.8" stroke="#40dede"/>
<circle cx="399.2" cy="202.8" r="3.8" stroke="#40dede"/>
<circle cx="406.4" cy="202.8" r="3.8" stroke="#40dede"/>
<circle cx="415.6" cy="202.8" r="3.8" stroke="#40dede"/>
<circle cx="418.6" cy="178.9" r="3.8" stroke="#40dede"/>
<circle cx="422.4" cy="178.9" r="3.8" stroke="#40dede"/>
<circle cx="426.2" cy="178.9" r="3.8" stroke="#40dede"/>
<circle cx="430.0" cy="178.9" r="3.8" stroke="#40dede"/>
<circle cx="433.8" cy="178.9" r="3.8" stroke="#40dede"/>
<circle cx="437.6" cy="178.9" r="3.8" stroke="#40dede"/>
<circle cx="441.4" cy="178.9" r="3.8" stroke="#40dede"/>
<circle cx="445.2" cy="178.9" r="3.8" stroke="#40dede"/>
<circle cx="454.4" cy="209.6" r="3.8" stroke="#40dede"/>
<circle cx="464.6" cy="209.6" r="3.8" stroke="#40dede"/>
<circle cx="474.4" cy="209.6" r="3.8" stroke="#40dede"/>
<circle cx="488.4" cy="208.9" r="3.8" stroke="#40dede"/>
<circle cx="493.7" cy="208.9" r="3.8" stroke="#40dede"/>
<circle cx="499.0" cy="208.9" r="3.8" stroke="#40dede"/>
<circle cx="504.2" cy="208.9" r="3.8" stroke="#40dede"/>
<circle cx="509.5" cy="208.9" r="3.8" stroke="#40dede"/>
<circle cx="514.8" cy="208.9" r="3.8" stroke="#40dede"/>
<circle cx="520.1" cy="208.9" r="3.8" stroke="#40dede"/>
<circle cx="517.0" cy="193.6" r="3.8" stroke="#40dede"/>
<circle cx="521.9" cy="193.6" r="3.8" stroke="#40dede"/>
<circle cx="526.9" cy="193.6" r="3.8" stroke="#40dede"/>
<circle cx="531.8" cy="193.6" r="3.8" stroke="#40dede"/>
<circle cx="536.7" cy="193.6" r="3.8" stroke="#40dede"/>
<circle cx="541.7" cy="193.6" r="3.8" stroke="#40dede"/>
<circle cx="546.6" cy="193.6" r="3.8" stroke="#40dede"/>
<circle cx="461.5" cy="146.0" r="3.8" stroke="#3030a6"/>
<circle cx="461.5" cy="159.4" r="3.8" stroke="#3030a6"/>
<circle cx="464.0" cy="159.4" r="3.8" stroke="#3030a6"/>
<circle cx="466.5" cy="159.4" r="3.8" stroke="#3030a6"/>
<circle cx="470.5" cy="159.4" r="3.8" stroke="#3030a6"/>
<circle cx="475.0" cy="174.8" r="3.8" stroke="#3030a6"/>
<circle cx="478.0" cy="174.8" r="3.8" stroke="#3030a6"/>
<circle cx="480.5" cy="174.8" r="3.8" stroke="#3030a6"/>
<circle cx="485.0" cy="174.8" r="3.8" stroke="#3030a6"/>
<circle cx="486.3" cy="195.2" r="3.8" stroke="#3030a6"/>
<circle cx="491.9" cy="195.2" r="3.8" stroke="#3030a6"/>
<circle cx="497.6" cy="195.2" r="3.8" stroke="#3030a6"/>
<circle cx="503.2" cy="195.2" r="3.8" stroke="#3030a6"/>
<circle cx="508.8" cy="195.2" r="3.8" stroke="#3030a6"/>
<circle cx="547.3" cy="222.2" r="3.8" stroke="#3030a6"/>
<circle cx="562.4" cy="221.8" r="3.8" stroke="#3030a6"/>
<circle cx="593.2" cy="221.8" r="3.8" stroke="#3030a6"/>
<circle cx="569.7" cy="124.5" r="3.8" stroke="#46c846"/>
<circle cx="558.9" cy="197.3" r="3.8" stroke="#46c846"/>
<circle cx="528.2" cy="179.3" r="3.8" stroke="#46c846"/>
</g>
<g fill="none" stroke-linecap="round" stroke-linejoin="round">
<polyline points="527,179.5 558,177 575,181 590,187 599,191.5" stroke="#00ff00" stroke-width="6.3"/>
<polyline points="461,167 500,168 510,171.5 518,178 526,188 535,197 560,211.4 580.6,222.4" stroke="#0000ff" stroke-width="6.3"/>
<polyline points="361.5,197 395,195 420,193.5 450,195.5 480,198.5 510,198 543,197" stroke="#00ffff" stroke-width="6.3"/>
<polyline points="361.5,194.8 455,184.6 526.5,180.5 599.2,180.3" stroke="#1c1c1c" stroke-opacity="0.5" stroke-width="6.3"/>
</g>
<rect x="503.5" y="144.55" width="16" height="8.5" rx="4.25" fill="#0000ff"/>
<rect x="552.8" y="129.5" width="19" height="7" rx="3.5" fill="#8c8c8c"/>
<rect x="565.5" y="170.0" width="16" height="8" rx="4.0" fill="#ff00ff"/>
<rect x="565.7" y="168.5" width="21" height="8.2" rx="4.1" fill="#00ff00"/>
<rect x="580.0" y="188.20000000000002" width="21" height="8.2" rx="4.1" fill="#00ff00"/>
<rect x="584.0" y="190.05" width="12" height="4.5" rx="2.25" fill="#8c8c8c"/>
<circle cx="556.5" cy="133" r="3.8" fill="none" stroke="#e020e0" stroke-width="1.2"/>
<circle cx="563" cy="133" r="3.8" fill="none" stroke="#10d010" stroke-width="1.2"/>
<circle cx="566.5" cy="133" r="3.8" fill="none" stroke="#10d010" stroke-width="1.2"/>
<circle cx="569" cy="133" r="3.8" fill="none" stroke="#10d010" stroke-width="1.2"/>
<circle cx="596.5" cy="193.3" r="3.8" fill="none" stroke="#e020e0" stroke-width="1.2"/>
<circle cx="585" cy="192.3" r="3.8" fill="none" stroke="#10d010" stroke-width="1.2"/>
<g fill="none" stroke-width="1.2">
<circle cx="470.0" cy="338.0" r="3.8" stroke="#40dede"/>
<circle cx="478.0" cy="340.0" r="3.8" stroke="#40dede"/>
<circle cx="486.0" cy="339.0" r="3.8" stroke="#40dede"/>
<circle cx="494.0" cy="341.0" r="3.8" stroke="#40dede"/>
<circle cx="502.0" cy="339.0" r="3.8" stroke="#40dede"/>
<circle cx="510.0" cy="340.0" r="3.8" stroke="#40dede"/>
<circle cx="518.0" cy="338.0" r="3.8" stroke="#40dede"/>
<circle cx="526.0" cy="339.0" r="3.8" stroke="#40dede"/>
<circle cx="534.0" cy="338.0" r="3.8" stroke="#40dede"/>
<circle cx="542.0" cy="337.0" r="3.8" stroke="#40dede"/>
<circle cx="500.0" cy="343.0" r="3.8" stroke="#40dede"/>
<circle cx="520.0" cy="342.0" r="3.8" stroke="#40dede"/>
<circle cx="453.8" cy="328.1" r="3.8" stroke="#40dede"/>
<circle cx="488.0" cy="333.0" r="3.8" stroke="#40dede"/>
<circle cx="496.0" cy="331.0" r="3.8" stroke="#40dede"/>
<circle cx="505.0" cy="334.0" r="3.8" stroke="#40dede"/>
<circle cx="515.0" cy="332.0" r="3.8" stroke="#40dede"/>
<circle cx="525.0" cy="334.0" r="3.8" stroke="#40dede"/>
<circle cx="533.0" cy="331.0" r="3.8" stroke="#40dede"/>
<circle cx="480.0" cy="336.0" r="3.8" stroke="#40dede"/>
<circle cx="360.4" cy="333.9" r="3.8" stroke="#40dede"/>
<circle cx="370.2" cy="327.2" r="3.8" stroke="#40dede"/>
<circle cx="377.0" cy="332.0" r="3.8" stroke="#40dede"/>
<circle cx="384.9" cy="332.9" r="3.8" stroke="#40dede"/>
<circle cx="393.1" cy="337.0" r="3.8" stroke="#40dede"/>
<circle cx="400.2" cy="339.0" r="3.8" stroke="#40dede"/>
<circle cx="406.4" cy="340.1" r="3.8" stroke="#40dede"/>
<circle cx="414.5" cy="338.0" r="3.8" stroke="#40dede"/>
<circle cx="421.7" cy="330.9" r="3.8" stroke="#40dede"/>
<circle cx="426.0" cy="328.0" r="3.8" stroke="#40dede"/>
<circle cx="430.9" cy="325.8" r="3.8" stroke="#40dede"/>
<circle cx="439.1" cy="339.0" r="3.8" stroke="#40dede"/>
<circle cx="454.4" cy="327.8" r="3.8" stroke="#40dede"/>
<circle cx="470.0" cy="339.0" r="3.8" stroke="#40dede"/>
<circle cx="500.0" cy="331.0" r="3.8" stroke="#40dede"/>
<circle cx="520.0" cy="333.0" r="3.8" stroke="#40dede"/>
<circle cx="461.5" cy="322.7" r="3.8" stroke="#3030a6"/>
<circle cx="474.6" cy="321.2" r="3.8" stroke="#3030a6"/>
<circle cx="484.6" cy="318.1" r="3.8" stroke="#3030a6"/>
<circle cx="489.2" cy="288.8" r="3.8" stroke="#3030a6"/>
<circle cx="500.8" cy="293.5" r="3.8" stroke="#3030a6"/>
<circle cx="506.2" cy="308.8" r="3.8" stroke="#3030a6"/>
<circle cx="510.0" cy="303.5" r="3.8" stroke="#3030a6"/>
<circle cx="513.8" cy="301.2" r="3.8" stroke="#3030a6"/>
<circle cx="516.9" cy="308.1" r="3.8" stroke="#3030a6"/>
<circle cx="522.3" cy="309.6" r="3.8" stroke="#3030a6"/>
<circle cx="504.6" cy="321.2" r="3.8" stroke="#3030a6"/>
<circle cx="510.8" cy="321.2" r="3.8" stroke="#3030a6"/>
<circle cx="477.7" cy="340.4" r="3.8" stroke="#3030a6"/>
<circle cx="525.4" cy="328.1" r="3.8" stroke="#3030a6"/>
<circle cx="461.5" cy="323.7" r="3.8" stroke="#3030a6"/>
<circle cx="473.8" cy="322.7" r="3.8" stroke="#3030a6"/>
<circle cx="466.0" cy="333.0" r="3.8" stroke="#3030a6"/>
<circle cx="476.0" cy="339.0" r="3.8" stroke="#3030a6"/>
<circle cx="495.5" cy="272.7" r="3.8" stroke="#3030a6"/>
<circle cx="489.8" cy="289.5" r="3.8" stroke="#3030a6"/>
<circle cx="500.7" cy="293.5" r="3.8" stroke="#3030a6"/>
<circle cx="513.3" cy="300.3" r="3.8" stroke="#3030a6"/>
<circle cx="475.1" cy="321.7" r="3.8" stroke="#3030a6"/>
<circle cx="484.3" cy="318.6" r="3.8" stroke="#3030a6"/>
<circle cx="508.8" cy="301.2" r="3.8" stroke="#3030a6"/>
<circle cx="512.9" cy="304.3" r="3.8" stroke="#3030a6"/>
<circle cx="522.1" cy="310.4" r="3.8" stroke="#3030a6"/>
<circle cx="506.8" cy="320.7" r="3.8" stroke="#3030a6"/>
<circle cx="527.2" cy="327.8" r="3.8" stroke="#3030a6"/>
<circle cx="478.2" cy="341.1" r="3.8" stroke="#3030a6"/>
<circle cx="547.7" cy="339.0" r="3.8" stroke="#3030a6"/>
<circle cx="592.6" cy="331.9" r="3.8" stroke="#3030a6"/>
<circle cx="504.0" cy="308.0" r="3.8" stroke="#3030a6"/>
<circle cx="560.0" cy="301.3" r="3.8" stroke="#b83cc6"/>
<circle cx="558.0" cy="307.3" r="3.8" stroke="#b83cc6"/>
<circle cx="569.3" cy="312.0" r="3.8" stroke="#b83cc6"/>
<circle cx="598.7" cy="330.7" r="3.8" stroke="#b83cc6"/>
<circle cx="568.1" cy="247.2" r="3.8" stroke="#b83cc6"/>
<circle cx="596.7" cy="284.0" r="3.8" stroke="#b83cc6"/>
<circle cx="554.8" cy="295.6" r="3.8" stroke="#b83cc6"/>
<circle cx="559.9" cy="299.3" r="3.8" stroke="#b83cc6"/>
<circle cx="555.8" cy="296.1" r="3.8" stroke="#b83cc6"/>
<circle cx="557.9" cy="307.4" r="3.8" stroke="#b83cc6"/>
<circle cx="569.1" cy="311.5" r="3.8" stroke="#b83cc6"/>
<circle cx="596.7" cy="330.9" r="3.8" stroke="#b83cc6"/>
<circle cx="586.5" cy="343.1" r="3.8" stroke="#b83cc6"/>
<circle cx="540.0" cy="312.0" r="3.8" stroke="#b83cc6"/>
<circle cx="548.0" cy="313.0" r="3.8" stroke="#b83cc6"/>
<circle cx="575.0" cy="327.0" r="3.8" stroke="#b83cc6"/>
<circle cx="593.3" cy="298.7" r="3.8" stroke="#46c846"/>
<circle cx="590.7" cy="302.7" r="3.8" stroke="#46c846"/>
<circle cx="586.7" cy="305.3" r="3.8" stroke="#46c846"/>
<circle cx="582.7" cy="312.7" r="3.8" stroke="#46c846"/>
<circle cx="593.6" cy="298.2" r="3.8" stroke="#46c846"/>
<circle cx="594.7" cy="299.2" r="3.8" stroke="#46c846"/>
<circle cx="590.6" cy="304.3" r="3.8" stroke="#46c846"/>
<circle cx="585.0" cy="308.0" r="3.8" stroke="#46c846"/>
<circle cx="570.0" cy="316.0" r="3.8" stroke="#46c846"/>
<circle cx="560.0" cy="320.0" r="3.8" stroke="#46c846"/>
</g>
<g fill="none" stroke-linecap="round" stroke-linejoin="round">
<polyline points="529,313.5 565,318 580,322.5 600.5,323" stroke="#ff00ff" stroke-width="6.3"/>
<polyline points="537,323 584,323.5" stroke="#00ff00" stroke-width="6.3"/>
<polyline points="531,319.5 572,320.5 599,307" stroke="#00ff00" stroke-width="6.3"/>
<polyline points="461.7,331 506.7,314.3 594.9,338.7" stroke="#0000ff" stroke-width="6.3"/>
<polyline points="361.5,337.5 420,334.5 483,335.8 544,336" stroke="#00ffff" stroke-width="6.3"/>
<polyline points="361.5,337.5 420,332 470,330 530,324.2 600.5,322.5" stroke="#1c1c1c" stroke-opacity="0.5" stroke-width="6.3"/>
</g>
<g fill="none" stroke="#1a1a1a" stroke-width="1.2"><rect x="59.5" y="1.5" width="265.9" height="104.7"/><rect x="343.6" y="1.5" width="266.0" height="104.7"/><rect x="59.5" y="121.6" width="265.9" height="104.6"/><rect x="343.6" y="121.6" width="266.0" height="104.6"/><rect x="59.5" y="242.6" width="265.9" height="105.29999999999998"/><rect x="343.6" y="242.6" width="266.0" height="105.29999999999998"/><line x1="77.00" y1="106.2" x2="77.00" y2="112.0"/><line x1="361.50" y1="106.2" x2="361.50" y2="112.0"/><line x1="116.73" y1="106.2" x2="116.73" y2="112.0"/><line x1="401.29" y1="106.2" x2="401.29" y2="112.0"/><line x1="156.47" y1="106.2" x2="156.47" y2="112.0"/><line x1="441.07" y1="106.2" x2="441.07" y2="112.0"/><line x1="196.20" y1="106.2" x2="196.20" y2="112.0"/><line x1="480.86" y1="106.2" x2="480.86" y2="112.0"/><line x1="235.94" y1="106.2" x2="235.94" y2="112.0"/><line x1="520.64" y1="106.2" x2="520.64" y2="112.0"/><line x1="275.68" y1="106.2" x2="275.68" y2="112.0"/><line x1="560.42" y1="106.2" x2="560.42" y2="112.0"/><line x1="315.41" y1="106.2" x2="315.41" y2="112.0"/><line x1="600.21" y1="106.2" x2="600.21" y2="112.0"/><line x1="77.00" y1="226.2" x2="77.00" y2="232.0"/><line x1="361.50" y1="226.2" x2="361.50" y2="232.0"/><line x1="116.73" y1="226.2" x2="116.73" y2="232.0"/><line x1="401.29" y1="226.2" x2="401.29" y2="232.0"/><line x1="156.47" y1="226.2" x2="156.47" y2="232.0"/><line x1="441.07" y1="226.2" x2="441.07" y2="232.0"/><line x1="196.20" y1="226.2" x2="196.20" y2="232.0"/><line x1="480.86" y1="226.2" x2="480.86" y2="232.0"/><line x1="235.94" y1="226.2" x2="235.94" y2="232.0"/><line x1="520.64" y1="226.2" x2="520.64" y2="232.0"/><line x1="275.68" y1="226.2" x2="275.68" y2="232.0"/><line x1="560.42" y1="226.2" x2="560.42" y2="232.0"/><line x1="315.41" y1="226.2" x2="315.41" y2="232.0"/><line x1="600.21" y1="226.2" x2="600.21" y2="232.0"/><line x1="77.00" y1="347.9" x2="77.00" y2="353.7"/><line x1="361.50" y1="347.9" x2="361.50" y2="353.7"/><line x1="116.73" y1="347.9" x2="116.73" y2="353.7"/><line x1="401.29" y1="347.9" x2="401.29" y2="353.7"/><line x1="156.47" y1="347.9" x2="156.47" y2="353.7"/><line x1="441.07" y1="347.9" x2="441.07" y2="353.7"/><line x1="196.20" y1="347.9" x2="196.20" y2="353.7"/><line x1="480.86" y1="347.9" x2="480.86" y2="353.7"/><line x1="235.94" y1="347.9" x2="235.94" y2="353.7"/><line x1="520.64" y1="347.9" x2="520.64" y2="353.7"/><line x1="275.68" y1="347.9" x2="275.68" y2="353.7"/><line x1="560.42" y1="347.9" x2="560.42" y2="353.7"/><line x1="315.41" y1="347.9" x2="315.41" y2="353.7"/><line x1="600.21" y1="347.9" x2="600.21" y2="353.7"/><line x1="53.1" y1="103.3" x2="59.5" y2="103.3"/><line x1="53.1" y1="88.1" x2="59.5" y2="88.1"/><line x1="53.1" y1="72.9" x2="59.5" y2="72.9"/><line x1="53.1" y1="57.7" x2="59.5" y2="57.7"/><line x1="53.1" y1="42.5" x2="59.5" y2="42.5"/><line x1="53.1" y1="27.299999999999997" x2="59.5" y2="27.299999999999997"/><line x1="53.1" y1="12.100000000000009" x2="59.5" y2="12.100000000000009"/><line x1="53.1" y1="212.8" x2="59.5" y2="212.8"/><line x1="53.1" y1="193.35000000000002" x2="59.5" y2="193.35000000000002"/><line x1="53.1" y1="173.9" x2="59.5" y2="173.9"/><line x1="53.1" y1="154.45000000000002" x2="59.5" y2="154.45000000000002"/><line x1="53.1" y1="135.0" x2="59.5" y2="135.0"/><line x1="53.1" y1="343.7" x2="59.5" y2="343.7"/><line x1="53.1" y1="319.4" x2="59.5" y2="319.4"/><line x1="53.1" y1="295.09999999999997" x2="59.5" y2="295.09999999999997"/><line x1="53.1" y1="270.79999999999995" x2="59.5" y2="270.79999999999995"/><line x1="53.1" y1="246.5" x2="59.5" y2="246.5"/><line x1="609.6" y1="103.2" x2="615.8000000000001" y2="103.2"/><line x1="609.6" y1="57.7" x2="615.8000000000001" y2="57.7"/><line x1="609.6" y1="12.200000000000003" x2="615.8000000000001" y2="12.200000000000003"/><line x1="609.6" y1="225.6" x2="615.8000000000001" y2="225.6"/><line x1="609.6" y1="197.94" x2="615.8000000000001" y2="197.94"/><line x1="609.6" y1="170.28" x2="615.8000000000001" y2="170.28"/><line x1="609.6" y1="142.62" x2="615.8000000000001" y2="142.62"/><line x1="609.6" y1="335.6" x2="615.8000000000001" y2="335.6"/><line x1="609.6" y1="291.749" x2="615.8000000000001" y2="291.749"/><line x1="609.6" y1="247.89800000000002" x2="615.8000000000001" y2="247.89800000000002"/></g>
<text x="77.00" y="368.3" text-anchor="middle" font-size="13" font-weight="normal" font-style="normal">−1000</text>
<text x="361.50" y="368.3" text-anchor="middle" font-size="13" font-weight="normal" font-style="normal">−1000</text>
<text x="116.73" y="368.3" text-anchor="middle" font-size="13" font-weight="normal" font-style="normal">−500</text>
<text x="401.29" y="368.3" text-anchor="middle" font-size="13" font-weight="normal" font-style="normal">−500</text>
<text x="156.47" y="368.3" text-anchor="middle" font-size="13" font-weight="normal" font-style="normal">0</text>
<text x="441.07" y="368.3" text-anchor="middle" font-size="13" font-weight="normal" font-style="normal">0</text>
<text x="196.20" y="368.3" text-anchor="middle" font-size="13" font-weight="normal" font-style="normal">500</text>
<text x="480.86" y="368.3" text-anchor="middle" font-size="13" font-weight="normal" font-style="normal">500</text>
<text x="235.94" y="368.3" text-anchor="middle" font-size="13" font-weight="normal" font-style="normal">1000</text>
<text x="520.64" y="368.3" text-anchor="middle" font-size="13" font-weight="normal" font-style="normal">1000</text>
<text x="275.68" y="368.3" text-anchor="middle" font-size="13" font-weight="normal" font-style="normal">1500</text>
<text x="560.42" y="368.3" text-anchor="middle" font-size="13" font-weight="normal" font-style="normal">1500</text>
<text x="315.41" y="368.3" text-anchor="middle" font-size="13" font-weight="normal" font-style="normal">2000</text>
<text x="600.21" y="368.3" text-anchor="middle" font-size="13" font-weight="normal" font-style="normal">2000</text>
<text x="48.3" y="107.7" text-anchor="end" font-size="13" font-weight="normal" font-style="normal">0.0</text>
<text x="48.3" y="77.30000000000001" text-anchor="end" font-size="13" font-weight="normal" font-style="normal">0.4</text>
<text x="48.3" y="46.9" text-anchor="end" font-size="13" font-weight="normal" font-style="normal">0.8</text>
<text x="48.3" y="16.500000000000007" text-anchor="end" font-size="13" font-weight="normal" font-style="normal">1.2</text>
<text x="48.3" y="217.20000000000002" text-anchor="end" font-size="13" font-weight="normal" font-style="normal">0.2</text>
<text x="48.3" y="178.3" text-anchor="end" font-size="13" font-weight="normal" font-style="normal">0.4</text>
<text x="48.3" y="139.4" text-anchor="end" font-size="13" font-weight="normal" font-style="normal">0.6</text>
<text x="48.3" y="348.09999999999997" text-anchor="end" font-size="13" font-weight="normal" font-style="normal">0.00</text>
<text x="48.3" y="299.49999999999994" text-anchor="end" font-size="13" font-weight="normal" font-style="normal">0.04</text>
<text x="48.3" y="250.9" text-anchor="end" font-size="13" font-weight="normal" font-style="normal">0.08</text>
<text x="620.5" y="107.60000000000001" text-anchor="start" font-size="13" font-weight="normal" font-style="normal">0.0</text>
<text x="620.5" y="62.1" text-anchor="start" font-size="13" font-weight="normal" font-style="normal">0.4</text>
<text x="620.5" y="16.6" text-anchor="start" font-size="13" font-weight="normal" font-style="normal">0.8</text>
<text x="620.5" y="230.0" text-anchor="start" font-size="13" font-weight="normal" font-style="normal">0</text>
<text x="620.5" y="202.34" text-anchor="start" font-size="13" font-weight="normal" font-style="normal">2</text>
<text x="620.5" y="174.68" text-anchor="start" font-size="13" font-weight="normal" font-style="normal">4</text>
<text x="620.5" y="147.02" text-anchor="start" font-size="13" font-weight="normal" font-style="normal">6</text>
<text x="620.5" y="340.0" text-anchor="start" font-size="13" font-weight="normal" font-style="normal">0.01</text>
<text x="620.5" y="296.149" text-anchor="start" font-size="13" font-weight="normal" font-style="normal">0.04</text>
<text x="620.5" y="252.29800000000003" text-anchor="start" font-size="13" font-weight="normal" font-style="normal">0.07</text>
<text x="334.6" y="386.5" text-anchor="middle" font-size="13" font-weight="normal" font-style="normal">Year AD</text>
<text x="12.6" y="175.5" text-anchor="middle" font-size="13" font-weight="normal" font-style="normal" transform="rotate(-90 12.6 175.5)">Number or weight of subfossils / sediment weight</text>
<text x="667.6" y="56.3" text-anchor="middle" font-size="13" font-weight="normal" font-style="normal" transform="rotate(-90 667.6 56.3)">Proportion teeth</text>
<text x="668.2" y="176" text-anchor="middle" font-size="13" font-weight="normal" font-style="normal" transform="rotate(-90 668.2 176)">mm per year</text>
<text x="667.3" y="295" text-anchor="middle" font-size="13" font-weight="normal" font-style="normal" transform="rotate(-90 667.3 295)">Spine weight/</text>
<text x="682.2" y="297" text-anchor="middle" font-size="13" font-weight="normal" font-style="normal" transform="rotate(-90 682.2 297)">sediment weight</text>
<text x="71.8" y="29" text-anchor="start" font-size="13" font-weight="normal" font-style="normal">Total fish teeth</text>
<text x="71.6" y="213.8" text-anchor="start" font-size="13" font-weight="normal" font-style="normal">Total coral</text>
<text x="71.6" y="260" text-anchor="start" font-size="13" font-weight="normal" font-style="normal">Total urchin</text>
<text x="356.2" y="99.9" text-anchor="start" font-size="13" font-weight="normal" font-style="normal">Proportion parrotfish</text>
<text x="355.6" y="137" text-anchor="start" font-size="13" font-weight="normal" font-style="normal">Accretion</text>
<text x="356.2" y="260.8" text-anchor="start" font-size="13" font-weight="normal" font-style="italic">Echinometra</text>
<text x="320.2" y="18.1" text-anchor="end" font-size="18.3" font-weight="bold" font-style="normal">a</text>
<text x="320.2" y="140.6" text-anchor="end" font-size="18.3" font-weight="bold" font-style="normal">b</text>
<text x="320.6" y="259.4" text-anchor="end" font-size="18.3" font-weight="bold" font-style="normal">c</text>
<text x="603.4" y="21.2" text-anchor="end" font-size="18.3" font-weight="bold" font-style="normal">d</text>
<text x="603.6" y="137.6" text-anchor="end" font-size="18.3" font-weight="bold" font-style="normal">e</text>
<text x="603.4" y="262.1" text-anchor="end" font-size="18.3" font-weight="bold" font-style="normal">f</text>
<circle cx="362.2" cy="273.80" r="3.8" fill="none" stroke="#40dede" stroke-width="1.2"/>
<text x="371.6" y="277.7" text-anchor="start" font-size="10.7" font-weight="normal" font-style="normal">AP</text>
<circle cx="362.2" cy="286.70" r="3.8" fill="none" stroke="#3030a6" stroke-width="1.2"/>
<text x="371.6" y="290.59999999999997" text-anchor="start" font-size="10.7" font-weight="normal" font-style="normal">CA</text>
<circle cx="362.2" cy="299.60" r="3.8" fill="none" stroke="#b83cc6" stroke-width="1.2"/>
<text x="371.6" y="303.5" text-anchor="start" font-size="10.7" font-weight="normal" font-style="normal">PD1</text>
<circle cx="362.2" cy="312.50" r="3.8" fill="none" stroke="#46c846" stroke-width="1.2"/>
<text x="371.6" y="316.4" text-anchor="start" font-size="10.7" font-weight="normal" font-style="normal">PD2</text>
</svg></body></html>
